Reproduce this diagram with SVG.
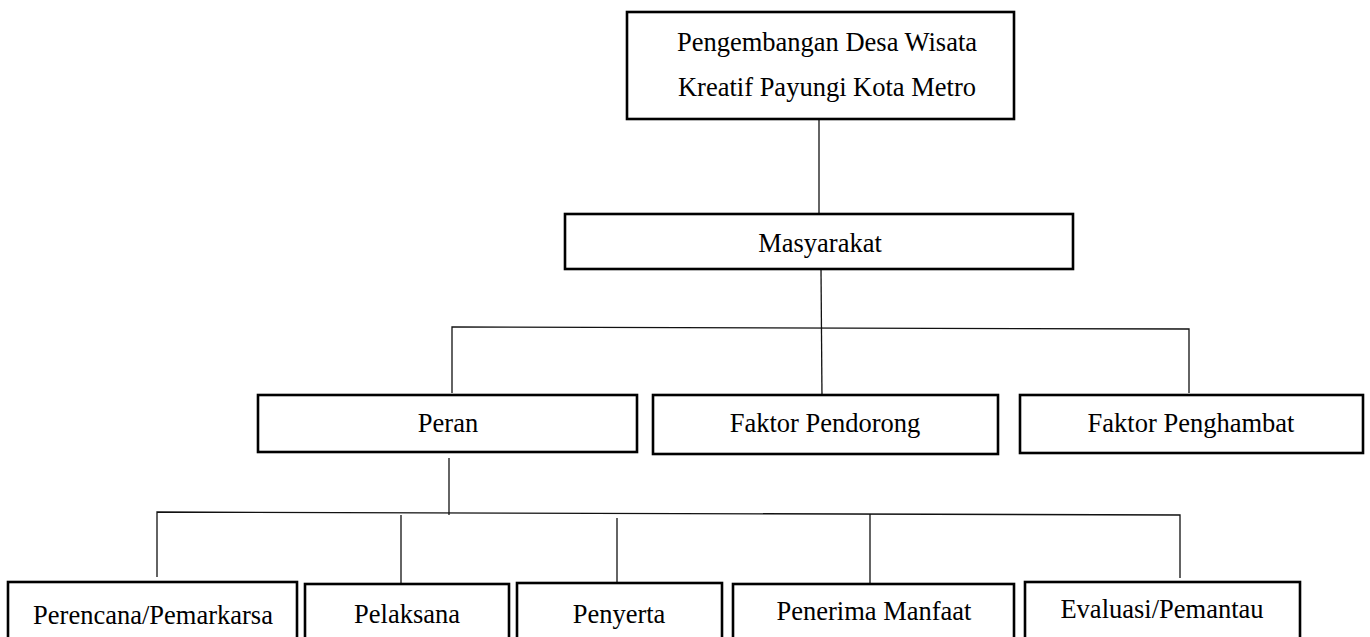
<svg xmlns="http://www.w3.org/2000/svg" width="1370" height="637" viewBox="0 0 1370 637">
<style>
.box{fill:#fff;stroke:#000;stroke-width:2.6}
.lbl{font-family:"Liberation Serif","Times New Roman",serif;font-size:26.5px;fill:#000;text-anchor:middle}
.con{stroke:#111;stroke-width:1.3;fill:none}
</style>
<rect width="1370" height="637" fill="#fff"/>
<g id="connectors">
<line class="con" x1="819" y1="119" x2="819" y2="216"/>
<line class="con" x1="821" y1="269" x2="822" y2="399"/>
<polyline class="con" points="452,393 452,327 1189,329 1189,393"/>
<line class="con" x1="449" y1="458" x2="449" y2="515"/>
<polyline class="con" points="157,577 157,512 1180,515 1180,578"/>
<line class="con" x1="401" y1="515" x2="401" y2="584"/>
<line class="con" x1="617" y1="518" x2="617" y2="587"/>
<line class="con" x1="870" y1="514" x2="870" y2="584"/>
</g>
<g id="node-top">
<rect class="box" x="627" y="12" width="387" height="107"/>
<text class="lbl" x="827" y="51">Pengembangan Desa Wisata</text>
<text class="lbl" x="827" y="96">Kreatif Payungi Kota Metro</text>
</g>
<g id="node-masyarakat">
<rect class="box" x="565" y="214" width="508" height="55"/>
<text class="lbl" x="820" y="252">Masyarakat</text>
</g>
<g id="node-peran">
<rect class="box" x="258" y="395" width="379" height="57"/>
<text class="lbl" x="448" y="432">Peran</text>
</g>
<g id="node-pendorong">
<rect class="box" x="653" y="395" width="345" height="59"/>
<text class="lbl" x="825" y="432">Faktor Pendorong</text>
</g>
<g id="node-penghambat">
<rect class="box" x="1020" y="395" width="343" height="58"/>
<text class="lbl" x="1191" y="432">Faktor Penghambat</text>
</g>
<g id="node-perencana">
<rect class="box" x="8" y="582" width="289" height="70"/>
<text class="lbl" x="153" y="624">Perencana/Pemarkarsa</text>
</g>
<g id="node-pelaksana">
<rect class="box" x="305" y="584" width="204" height="70"/>
<text class="lbl" x="407" y="623">Pelaksana</text>
</g>
<g id="node-penyerta">
<rect class="box" x="517" y="583" width="205" height="70"/>
<text class="lbl" x="619" y="623">Penyerta</text>
</g>
<g id="node-penerima">
<rect class="box" x="733" y="584" width="281" height="70"/>
<text class="lbl" x="874" y="620">Penerima Manfaat</text>
</g>
<g id="node-evaluasi">
<rect class="box" x="1025" y="582" width="275" height="70"/>
<text class="lbl" x="1162" y="618">Evaluasi/Pemantau</text>
</g>
</svg>
